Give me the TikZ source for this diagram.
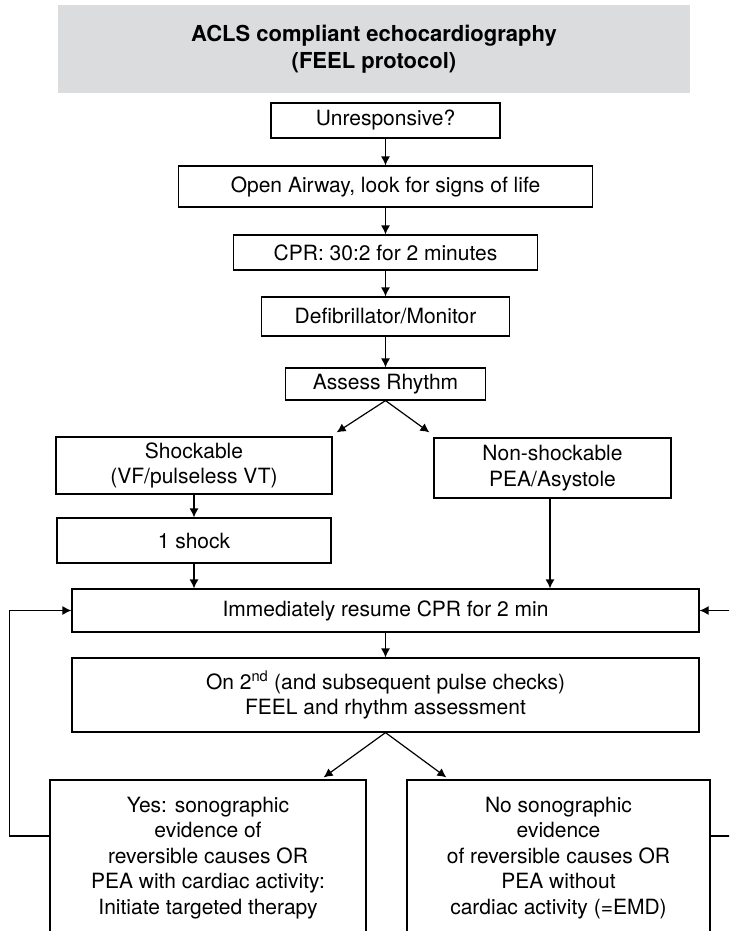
\documentclass[tikz,border=0pt]{standalone}
\usepackage{fontspec}
\setmainfont{TeX Gyre Heros}
\usetikzlibrary{arrows.meta}

\definecolor{headgray}{RGB}{219,220,222}

\begin{document}
\begin{tikzpicture}[x=1pt,y=-1pt,
    box/.style={draw,line width=1.2pt,inner sep=0pt,align=center,
      font=\fontsize{21}{25.5}\selectfont},
    arr/.style={line width=1.2pt,-{Latex[length=9pt,width=9pt]}},
    link/.style={line width=1.2pt}]
  \useasboundingbox (0,0) rectangle (729,931);
  \clip (0,0) rectangle (729,931);

  % heading
  \node[fill=headgray,minimum width=632pt,minimum height=88pt,align=center,
    font=\fontsize{22}{27}\selectfont\bfseries] (head) at (374,49)
    {ACLS compliant echocardiography\\(FEEL protocol)};

  % main column
  \node[box,minimum width=229pt,minimum height=35pt] (unresp) at (385.5,120.5) {Unresponsive?};
  \node[box,minimum width=414pt,minimum height=41pt] (airway) at (385.5,186.5) {Open Airway, look for signs of life};
  \node[box,minimum width=304pt,minimum height=35pt] (cpr) at (385.5,252.5) {CPR: 30:2 for 2 minutes};
  \node[box,minimum width=248pt,minimum height=39pt] (defib) at (385.5,316.5) {Defibrillator/Monitor};
  \node[box,minimum width=200pt,minimum height=32pt] (assess) at (385.5,384) {Assess Rhythm};

  % rhythm branches
  \node[box,minimum width=276pt,minimum height=57pt] (shock) at (194,465.5) {Shockable\\(VF/pulseless VT)};
  \node[box,minimum width=237pt,minimum height=60pt] (nonshock) at (552.5,468) {Non-shockable\\PEA/Asystole};
  \node[box,minimum width=274pt,minimum height=45pt] (oneshock) at (194,540.5) {1 shock};

  \node[box,minimum width=627pt,minimum height=43pt] (resume) at (385.5,610.5) {Immediately resume CPR for 2 min};
  \node[box,minimum width=627pt,minimum height=74pt] (check) at (385.5,695)
    {On 2\textsuperscript{nd} (and subsequent pulse checks)\\FEEL and rhythm assessment};

  % outcome boxes, running off the bottom
  \node[box,minimum width=316pt,minimum height=156pt] (yes) at (208,858)
    {Yes: sonographic\\evidence of\\reversible causes OR\\PEA with cardiac activity:\\Initiate targeted therapy};
  \node[box,minimum width=303pt,minimum height=156pt] (no) at (558.5,858)
    {No sonographic\\evidence\\of reversible causes OR\\PEA without\\cardiac activity (=EMD)};

  \coordinate (outR) at (735,836);
  \coordinate (inR) at (735,610.5);

  \draw[arr] (unresp) -- (airway);
  \draw[arr] (airway) -- (cpr);
  \draw[arr] (cpr) -- (defib);
  \draw[arr] (defib) -- (assess);
  \draw[arr] (assess.south) -- ([xshift=4pt,yshift=4pt]shock.north east);
  \draw[arr] (assess.south) -- ([xshift=-4pt,yshift=5pt]nonshock.north west);
  \draw[arr] (shock) -- (oneshock);
  \draw[arr] (oneshock.south) -- (oneshock.south |- resume.north);
  \draw[arr] ([xshift=-2.5pt]nonshock.south) -- ([xshift=-2.5pt]nonshock.south |- resume.north);
  \draw[arr] (resume) -- (check);
  \draw[arr] (check.south) -- ([xshift=-43pt,yshift=2pt]yes.north east);
  \draw[arr] (check.south) -- ([xshift=40pt,yshift=2pt]no.north west);

  % loops back to CPR
  \draw[arr] ([yshift=22pt]yes.west) -- ++(-40,0) |- (resume.west);
  \draw[link] ([yshift=22pt]no.east) -- (outR);
  \draw[arr] (inR) -- (resume.east);
\end{tikzpicture}
\end{document}
